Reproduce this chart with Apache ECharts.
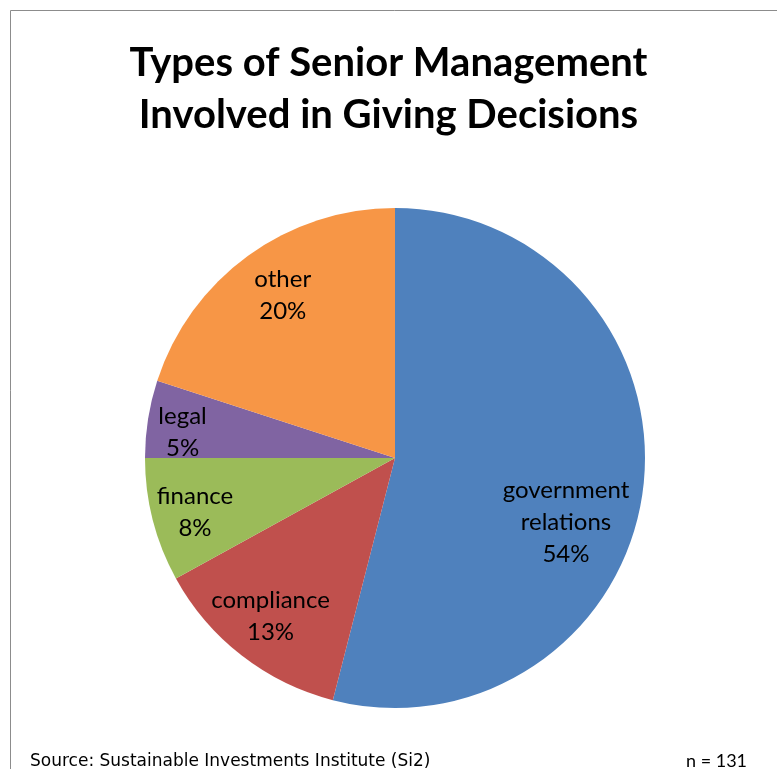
<!DOCTYPE html>
<html>
<head>
<meta charset="utf-8">
<script src="https://cdn.jsdelivr.net/npm/echarts@6/dist/echarts.min.js"></script>
<style>
  html, body { margin: 0; padding: 0; background: #fff; }
  #chart { width: 777px; height: 769px; }
</style>
</head>
<body>
<div id="chart"></div>
<script>
// Share of respondents naming each senior-management function (percent)
const categories = ['government relations', 'compliance', 'finance', 'legal', 'other'];
const labelNames = ['government\nrelations', 'compliance', 'finance', 'legal', 'other'];
const shares = [54, 13, 8, 5, 20];
const sliceColors = ['#4F81BD', '#C0504D', '#9BBB59', '#8064A2', '#F79646'];

const titleText = 'Types of Senior Management\nInvolved in Giving Decisions';
const sourceText = 'Source: Sustainable Investments Institute (Si2)';
const sampleText = 'n = 131';

// Nudges that move each in-slice label toward the outer part of its slice
const labelNudge = [[44, 48], [-46, 57], [-76, 22], [-86, -6], [-37, -59]];

const FONT = 'Lato, "Open Sans", sans-serif';

const chart = echarts.init(document.getElementById('chart'), null, { renderer: 'canvas' });

chart.setOption({
  backgroundColor: '#ffffff',
  animation: false,
  title: {
    text: titleText,
    left: 'center',
    top: 32,
    textStyle: {
      fontFamily: FONT,
      fontSize: 40,
      fontWeight: 'bold',
      color: '#000',
      lineHeight: 52
    }
  },
  graphic: [
    {
      type: 'rect',
      shape: { x: 10.5, y: 10.5, width: 800, height: 800 },
      style: { fill: 'none', stroke: '#8c8c8c', lineWidth: 1 },
      silent: true
    },
    {
      type: 'text',
      left: 30,
      top: 753,
      style: { text: sourceText, font: '17px "DejaVu Sans", sans-serif', fill: '#000' }
    },
    {
      type: 'text',
      left: 686,
      top: 752,
      style: { text: sampleText, font: '18px ' + FONT, fill: '#000' }
    }
  ],
  series: [{
    type: 'pie',
    center: [395, 458],
    radius: 250,
    startAngle: 90,
    clockwise: true,
    avoidLabelOverlap: false,
    data: categories.map((name, i) => ({
      name: name,
      value: shares[i],
      itemStyle: { color: sliceColors[i] },
      label: {
        formatter: labelNames[i] + '\n' + shares[i] + '%'
      }
    })),
    label: {
      show: true,
      position: 'inside',
      fontFamily: FONT,
      fontSize: 24,
      lineHeight: 32,
      color: '#000',
      align: 'center'
    },
    labelLine: { show: false },
    labelLayout: function (p) {
      const d = labelNudge[p.dataIndex];
      return { dx: d[0], dy: d[1] };
    },
    itemStyle: { borderWidth: 0 },
    emphasis: { disabled: true }
  }]
});
</script>
</body>
</html>
